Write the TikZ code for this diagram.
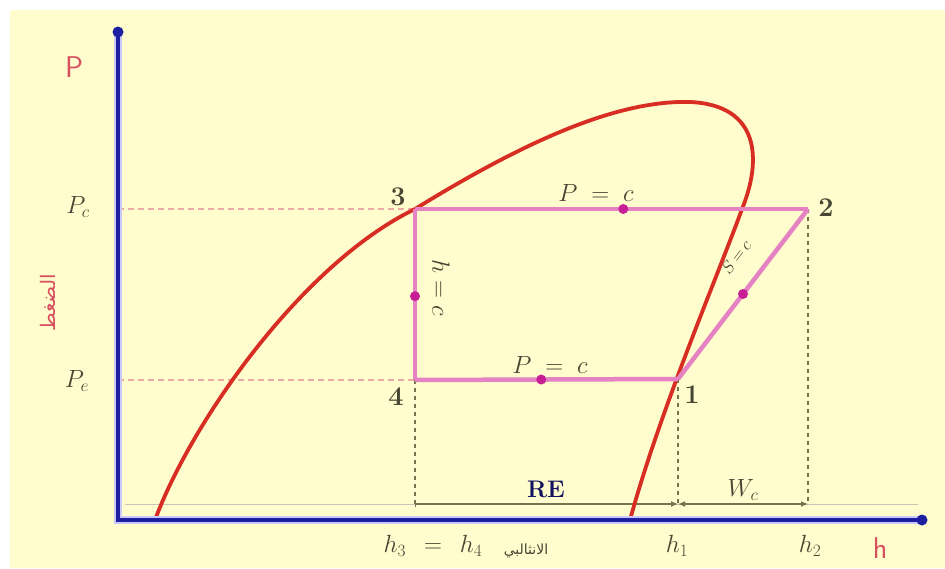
\documentclass[tikz,border=0pt]{standalone}
\usepackage{fontspec}
\newfontfamily\arabicfont[Script=Arabic]{DejaVu Sans}
\TeXXeTstate=1
\usetikzlibrary{arrows.meta}
\definecolor{bgyellow}{RGB}{255,252,205}
\definecolor{axisblue}{RGB}{30,30,160}
\definecolor{halo}{RGB}{200,200,250}
\definecolor{domered}{RGB}{215,45,35}
\definecolor{cyclepink}{RGB}{228,130,195}
\definecolor{dotmag}{RGB}{200,30,150}
\definecolor{guide}{RGB}{115,115,80}
\definecolor{labred}{RGB}{215,80,95}
\definecolor{dashpink}{RGB}{235,170,165}
\definecolor{txt}{RGB}{70,70,50}
\tikzset{
  axisline/.style={axisblue, line width=3.5pt},
  axishalo/.style={halo, line width=8pt},
  dome/.style={domered, line width=3.8pt},
  cycleline/.style={cyclepink, line width=4.5pt},
  flowdot/.style={circle, fill=dotmag, inner sep=0pt, minimum size=10pt},
  guideline/.style={guide, line width=1.3pt, dash pattern=on 4pt off 4pt},
  levelline/.style={dashpink, line width=2pt, dash pattern=on 6pt off 4pt},
  dimline/.style={guide, line width=1.2pt},
  ptlabel/.style={font=\fontsize{27}{27}\selectfont\bfseries, text=txt},
  mathlabel/.style={font=\fontsize{24}{24}\selectfont, text=txt},
  redlabel/.style={font=\fontsize{30}{30}\selectfont\sffamily, text=labred},
}
\begin{document}
\begin{tikzpicture}[x=1pt,y=-1pt]
\useasboundingbox (0,0) rectangle (945,568);
\fill[white] (0,0) rectangle (945,568);
\fill[bgyellow] (10,10) rectangle (945,568);

% coordinates
\coordinate (O) at (118,520);
\coordinate (ytop) at (118,32);
\coordinate (xend) at (922,520);
\coordinate (p1) at (678,379);
\coordinate (p2) at (808,209);
\coordinate (p3) at (415,209);
\coordinate (p4) at (415,380);
\coordinate (yc) at (118,209);
\coordinate (ye) at (118,380);
\coordinate (b4) at (415,504);
\coordinate (b1) at (678,504);
\coordinate (b2) at (808,504);
\coordinate (bl) at (125,504);
\coordinate (br) at (918,504);

% level lines
\draw[levelline] (yc) -- (p3);
\draw[levelline] (ye) -- (p4);

% guide verticals and dimension line
\draw[guideline] (p4) -- (b4);
\draw[guideline] (p1) -- (b1);
\draw[guideline] (p2) -- (b2);
\draw[guide!40, line width=1pt] (bl) -- (br);
\draw[dimline, {Bar[width=6pt]}-{Latex[length=7pt,width=6pt]}] (b4) -- (b1);
\draw[dimline, {Latex[length=7pt,width=6pt]}-{Latex[length=7pt,width=6pt]}] (b1) -- (b2);

% saturation dome
\draw[dome] (155,520) .. controls (190,425) and (300,265) .. (p3)
  .. controls (530,138) and (620,100) .. (690,102)
  .. controls (760,105) and (762,160) .. (742,209)
  .. controls (720,270) and (660,410) .. (630,520);

% cycle
\draw[cycleline] (p2) -- node[flowdot, pos=0.47]{} (p3);
\draw[cycleline] (p3) -- node[flowdot, pos=0.51]{} (p4);
\draw[cycleline] (p4) -- node[flowdot, pos=0.48]{} (p1);
\draw[cycleline] (p1) -- node[flowdot, pos=0.5]{} (p2);

% axes
\draw[axishalo] (ytop) -- (O) -- (xend);
\draw[axisline] (ytop) -- (O) -- (xend);
\fill[axisblue] (ytop) circle (5.5);
\fill[axisblue] (xend) circle (5.5);

% labels
\node[redlabel] (lP) at (74,67) {P};
\node[redlabel] (lh) at (880,548) {h};
\node[rotate=90, text=labred, font=\fontsize{20}{20}\selectfont] (lpress) at (48,303) {\arabicfont\beginR الضغط\endR};
\node[mathlabel, font=\fontsize{27}{27}\selectfont] (lPc) at (78,207) {$P_c$};
\node[mathlabel, font=\fontsize{27}{27}\selectfont] (lPe) at (77,381) {$P_e$};

\node[ptlabel] (n3) at (398,197) {3};
\node[ptlabel] (n2) at (826,208) {2};
\node[ptlabel] (n4) at (396,397) {4};
\node[ptlabel] (n1) at (692,395) {1};

\node[mathlabel] (lpc1) at (596,193) {$P\;=\;c$};
\node[mathlabel] (lpc2) at (550,365) {$P\;=\;c$};
\node[mathlabel, rotate=-90] (lhc) at (441,288) {$h=c$};
\node[mathlabel, rotate=52, font=\fontsize{18}{18}\selectfont, inner sep=1pt] (lsc) at (736,257) {$S\,{=}\,c$};

\node[font=\fontsize{24}{24}\selectfont\bfseries, text=axisblue!60!black] (lRE) at (546,489) {RE};
\node[mathlabel] (lWc) at (743,490) {$W_c$};

\node[mathlabel] (lh34) at (433,546) {$h_3\;\,=\;\,h_4$};
\node[text=txt, font=\fontsize{14}{14}\selectfont] (lenth) at (526,551) {\arabicfont\beginR الانثالبي\endR};
\node[mathlabel, font=\fontsize{26}{26}\selectfont] (lh1) at (677,546) {$h_1$};
\node[mathlabel, font=\fontsize{26}{26}\selectfont] (lh2) at (810,546) {$h_2$};
\end{tikzpicture}
\end{document}
